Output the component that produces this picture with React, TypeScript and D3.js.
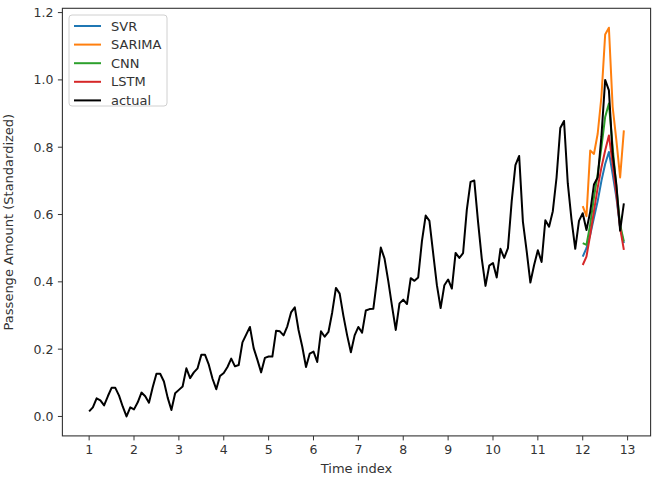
import React from "react";
import * as d3 from "d3";

// Actual series (standardized), 144 monthly points
const actual: number[] = [
  0.015, 0.027, 0.054, 0.048, 0.033, 0.060, 0.085, 0.085, 0.062, 0.029, 0.000, 0.027,
  0.021, 0.042, 0.071, 0.060, 0.041, 0.087, 0.127, 0.127, 0.104, 0.056, 0.019, 0.069,
  0.079, 0.089, 0.143, 0.114, 0.131, 0.143, 0.183, 0.183, 0.154, 0.112, 0.081, 0.120,
  0.129, 0.147, 0.172, 0.149, 0.153, 0.220, 0.243, 0.266, 0.203, 0.168, 0.131, 0.174,
  0.178, 0.178, 0.255, 0.253, 0.241, 0.268, 0.309, 0.324, 0.257, 0.207, 0.147, 0.187,
  0.193, 0.162, 0.253, 0.237, 0.251, 0.309, 0.382, 0.365, 0.299, 0.241, 0.191, 0.241,
  0.266, 0.249, 0.315, 0.319, 0.320, 0.407, 0.502, 0.469, 0.402, 0.328, 0.257, 0.336,
  0.347, 0.334, 0.411, 0.403, 0.413, 0.521, 0.597, 0.581, 0.485, 0.390, 0.322, 0.390,
  0.407, 0.380, 0.486, 0.471, 0.485, 0.614, 0.697, 0.701, 0.579, 0.469, 0.388, 0.448,
  0.456, 0.413, 0.498, 0.471, 0.500, 0.639, 0.747, 0.774, 0.579, 0.492, 0.398, 0.450,
  0.494, 0.459, 0.583, 0.564, 0.610, 0.710, 0.857, 0.878, 0.693, 0.585, 0.498, 0.581,
  0.604, 0.554, 0.608, 0.689, 0.710, 0.832, 1.000, 0.969, 0.780, 0.689, 0.552, 0.633,
];

// Predictions for last 12 points
const svr: number[] = [0.475, 0.5, 0.54, 0.59, 0.64, 0.7, 0.75, 0.786, 0.72, 0.65, 0.56, 0.515];
const sarima: number[] = [0.625, 0.595, 0.79, 0.78, 0.84, 0.95, 1.135, 1.155, 0.92, 0.82, 0.71, 0.85];
const cnn: number[] = [0.515, 0.51, 0.57, 0.65, 0.72, 0.8, 0.89, 0.93, 0.8, 0.68, 0.57, 0.52];
const lstm: number[] = [0.45, 0.475, 0.54, 0.61, 0.68, 0.74, 0.79, 0.835, 0.75, 0.66, 0.56, 0.495];

const xTicks: number[] = [1, 2, 3, 4, 5, 6, 7, 8, 9, 10, 11, 12, 13];
const yTicks: number[] = [0.0, 0.2, 0.4, 0.6, 0.8, 1.0, 1.2];

const seriesNames: string[] = ["SVR", "SARIMA", "CNN", "LSTM", "actual"];
const seriesColors: string[] = ["#1f77b4", "#ff7f0e", "#2ca02c", "#d62728", "#000000"];

const W = 665;
const H = 478;
const M = { left: 62.4, right: 650.6, top: 8.3, bottom: 435.9 };
const FONT = "DejaVu Sans, sans-serif";

export default function App() {
  const n = actual.length;
  const tIdx = d3.range(n).map((i) => 1 + i / 12);
  const predStart = n - svr.length;
  const predIdx = tIdx.slice(predStart);

  const xMin = tIdx[0];
  const xMax = tIdx[n - 1];
  const xPad = (xMax - xMin) * 0.05;
  const all = [...actual, ...svr, ...sarima, ...cnn, ...lstm];
  const yMin = d3.min(all)!;
  const yMax = d3.max(all)!;
  const yPad = (yMax - yMin) * 0.05;

  const x = d3.scaleLinear().domain([xMin - xPad, xMax + xPad]).range([M.left, M.right]);
  const y = d3.scaleLinear().domain([yMin - yPad, yMax + yPad]).range([M.bottom, M.top]);

  const line = (xs: number[], ys: number[]) =>
    d3.line<number>().x((_, i) => x(xs[i])).y((d) => y(d))(ys) || "";

  const preds = [svr, sarima, cnn, lstm];

  const legX = 69;
  const legY = 15;
  const rowH = 18.6;

  return (
    <svg width={W} height={H} style={{ position: "absolute", left: 0, top: 0, background: "#fff" }}
      fontFamily={FONT}>
      <rect x={0} y={0} width={W} height={H} fill="#fff" />
      {preds.map((p, k) => (
        <path key={k} d={line(predIdx, p)} fill="none" stroke={seriesColors[k]} strokeWidth={2}
          strokeLinejoin="round" />
      ))}
      <path d={line(tIdx, actual)} fill="none" stroke="#000" strokeWidth={2} strokeLinejoin="round" />

      {/* spines */}
      <rect x={M.left} y={M.top} width={M.right - M.left} height={M.bottom - M.top} fill="none"
        stroke="#333" strokeWidth={1.1} />

      {/* x ticks */}
      {xTicks.map((t) => (
        <g key={"x" + t}>
          <line x1={x(t)} x2={x(t)} y1={M.bottom} y2={M.bottom + 4.5} stroke="#333" strokeWidth={1} />
          <text x={x(t)} y={M.bottom + 18} textAnchor="middle" fontSize={12.5} fill="#333">{t}</text>
        </g>
      ))}
      {/* y ticks */}
      {yTicks.map((t) => (
        <g key={"y" + t}>
          <line x1={M.left - 4.5} x2={M.left} y1={y(t)} y2={y(t)} stroke="#333" strokeWidth={1} />
          <text x={M.left - 9} y={y(t)} dy="0.36em" textAnchor="end" fontSize={12.5} fill="#333">
            {t.toFixed(1)}
          </text>
        </g>
      ))}

      <text x={(M.left + M.right) / 2} y={473} textAnchor="middle" fontSize={13} fill="#333">Time index</text>
      <text transform={`translate(13,${(M.top + M.bottom) / 2}) rotate(-90)`} textAnchor="middle"
        fontSize={13} fill="#333">Passenge Amount (Standardized)</text>

      {/* legend */}
      <rect x={legX} y={legY} width={98} height={91} rx={3} fill="#fff" fillOpacity={0.8}
        stroke="#d0d0d0" strokeWidth={1} />
      {seriesNames.map((s, i) => (
        <g key={s}>
          <line x1={legX + 5} x2={legX + 32} y1={legY + 11 + i * rowH} y2={legY + 11 + i * rowH}
            stroke={seriesColors[i]} strokeWidth={2} />
          <text x={legX + 42} y={legY + 11 + i * rowH} dy="0.36em" fontSize={13} fill="#333">{s}</text>
        </g>
      ))}
    </svg>
  );
}
